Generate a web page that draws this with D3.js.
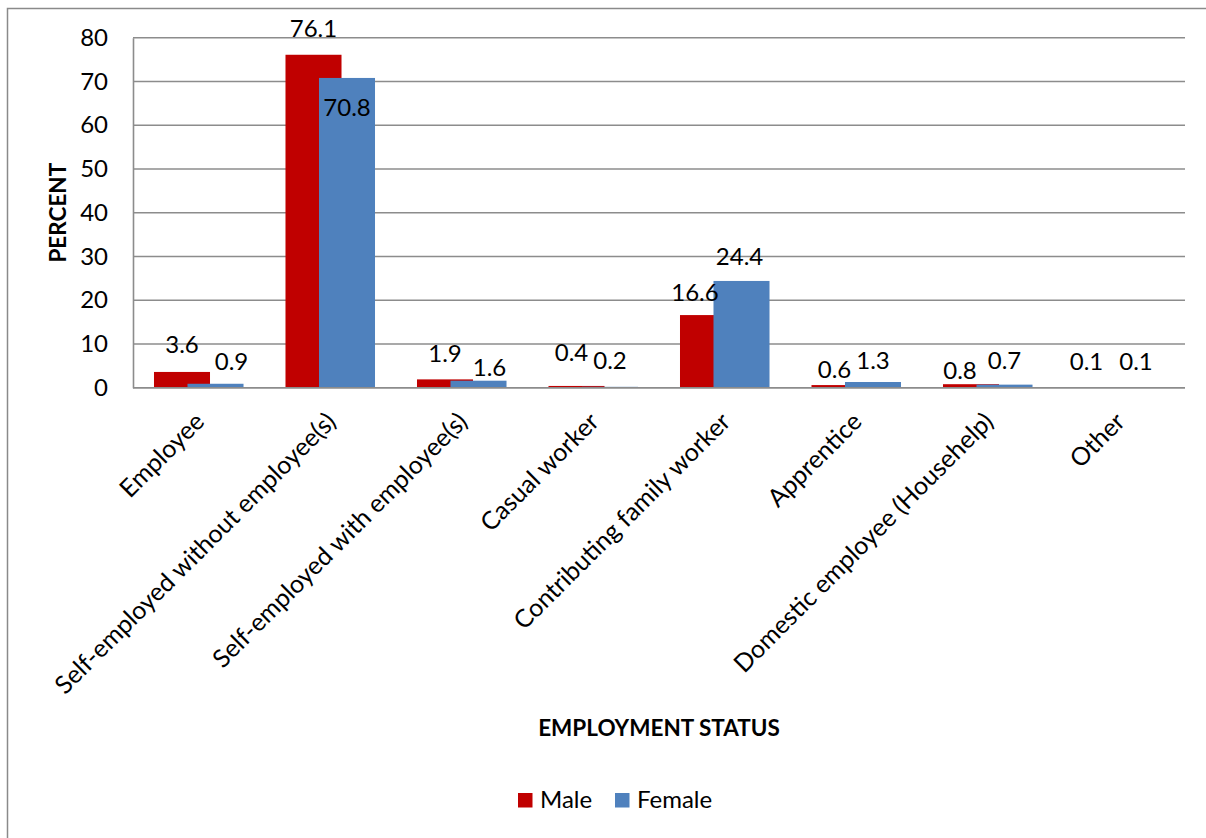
<!DOCTYPE html>
<html>
<head>
<meta charset="utf-8">
<script src="https://cdn.jsdelivr.net/npm/d3@7"></script>
<style>
  html, body { margin: 0; padding: 0; background: #ffffff; }
  svg { display: block; }
  text { font-family: Lato, "Open Sans", "Noto Sans", sans-serif; fill: #000; }
</style>
</head>
<body>
<svg id="chart" width="1206" height="838"></svg>
<script>
// Employment status by sex (percent)
const categories = [
  "Employee",
  "Self-employed without employee(s)",
  "Self-employed with employee(s)",
  "Casual worker",
  "Contributing family worker",
  "Apprentice",
  "Domestic employee (Househelp)",
  "Other"
];
const seriesNames = ["Male", "Female"];
const maleValues   = [3.6, 76.1, 1.9, 0.4, 16.6, 0.6, 0.8, 0.1];
const femaleValues = [0.9, 70.8, 1.6, 0.2, 24.4, 1.3, 0.7, 0.1];
const yTicks = [0, 10, 20, 30, 40, 50, 60, 70, 80];

// Label placement tweaks: [dx, rise above bar top] in px
const maleLabelShift   = [[0, 27], [0, 26], [0, 26], [-5, 33], [-13, 22], [-5, 15], [-11, 14], [-16, 26]];
const femaleLabelShift = [[16, 22], [0, -30], [11, 13], [0, 26], [-2, 24], [0, 21], [0, 24], [0, 26]];

const colors = { Male: "#C00000", Female: "#4F81BD" };
const FONT = 24;
const CAT_FONT = 25;
const TITLE_FONT = 22.5;

const svg = d3.select("#chart");
const plot = { left: 133, right: 1185, top: 37.7, bottom: 387.7 };

// outer frame (runs off the right and bottom edges)
svg.append("rect")
  .attr("x", 7.5).attr("y", 8.5)
  .attr("width", 1400).attr("height", 1000)
  .attr("fill", "none").attr("stroke", "#8a8a8a").attr("stroke-width", 1.5);

const x0 = d3.scaleBand().domain(categories).range([plot.left, plot.right]).padding(0);
const bw = x0.bandwidth();
const barW = bw * 0.426;
const x1 = d3.scalePoint().domain(seriesNames).range([-bw * 0.1274, bw * 0.1274]);
const y = d3.scaleLinear().domain([0, 80]).range([plot.bottom, plot.top]);

// gridlines
svg.append("g")
  .selectAll("line")
  .data(yTicks)
  .join("line")
  .attr("x1", plot.left).attr("x2", plot.right)
  .attr("y1", d => y(d)).attr("y2", d => y(d))
  .attr("stroke", "#8c8c8c").attr("stroke-width", 1.6);

// y axis
const yAxis = d3.axisLeft(y).tickValues(yTicks).tickSize(0).tickPadding(25);
const gy = svg.append("g").attr("transform", `translate(${plot.left},0)`).call(yAxis);
gy.select(".domain").attr("stroke", "#8c8c8c").attr("stroke-width", 1.6);
gy.selectAll("text").style("font-size", FONT + "px").style("font-family", "Lato, sans-serif").attr("fill", "#000");

// bars
const rows = categories.map((c, i) => ({ cat: c, i, Male: maleValues[i], Female: femaleValues[i] }));
const groups = svg.append("g").selectAll("g")
  .data(rows)
  .join("g")
  .attr("transform", d => `translate(${x0(d.cat) + bw / 2},0)`);

groups.selectAll("rect")
  .data(d => seriesNames.map(s => ({ s, v: d[s] })))
  .join("rect")
  .attr("x", d => x1(d.s) - barW / 2)
  .attr("width", barW)
  .attr("y", d => y(d.v))
  .attr("height", d => y(0) - y(d.v))
  .attr("fill", d => colors[d.s]);

// x axis baseline
svg.append("line")
  .attr("x1", plot.left).attr("x2", plot.right)
  .attr("y1", y(0)).attr("y2", y(0))
  .attr("stroke", "#8c8c8c").attr("stroke-width", 1.6);

// value labels
groups.each(function (d) {
  const g = d3.select(this);
  [["Male", maleLabelShift], ["Female", femaleLabelShift]].forEach(([s, shift]) => {
    const [dx, rise] = shift[d.i];
    g.append("text")
      .attr("x", x1(s) + dx)
      .attr("y", y(d[s]) - rise)
      .attr("dy", "0.35em")
      .attr("text-anchor", "middle")
      .style("font-size", FONT + "px")
      .text(d3.format(".1f")(d[s]));
  });
});

// category labels, rotated
svg.append("g").selectAll("text")
  .data(categories)
  .join("text")
  .attr("transform", d => `translate(${x0(d) + bw / 2 + 1},417) rotate(-45)`)
  .attr("text-anchor", "end")
  .attr("dy", "0.35em")
  .style("font-size", CAT_FONT + "px")
  .text(d => d);

// axis titles
svg.append("text")
  .attr("transform", `translate(58,${(plot.top + plot.bottom) / 2}) rotate(-90)`)
  .attr("text-anchor", "middle")
  .attr("dy", "0.35em")
  .style("font-size", TITLE_FONT + "px").style("font-weight", "bold")
  .text("PERCENT");

svg.append("text")
  .attr("x", (plot.left + plot.right) / 2)
  .attr("y", 728)
  .attr("dy", "0.35em")
  .attr("text-anchor", "middle")
  .style("font-size", TITLE_FONT + "px").style("font-weight", "bold")
  .text("EMPLOYMENT STATUS");

// legend
const legend = svg.append("g").attr("transform", "translate(518,793)");
const legendX = [0, 97];
seriesNames.forEach((s, i) => {
  const lg = legend.append("g").attr("transform", `translate(${legendX[i]},0)`);
  lg.append("rect").attr("width", 14.5).attr("height", 14.5).attr("fill", colors[s]);
  lg.append("text").attr("x", 22).attr("y", 14.5).style("font-size", FONT + "px").text(s);
});
</script>
</body>
</html>
